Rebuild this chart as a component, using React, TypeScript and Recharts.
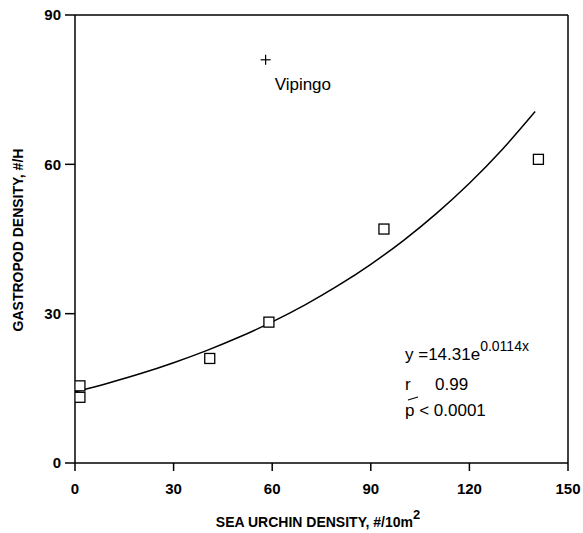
import { ComposedChart, Scatter, Line, XAxis, YAxis, ReferenceLine } from "recharts";

// observed sites: sea urchin density (#/10m2) vs gastropod density (#/H)
const urchinX = [1.5, 1.5, 41, 59, 94, 141];
const gastropodY = [15.5, 13.2, 21, 28.3, 47, 61];

// outlier site
const vipingoX = [58];
const vipingoY = [81];
const vipingoName = ["Vipingo"];

// fitted curve y = 14.31e^0.0114x, read at 10-unit steps
const fitX = [0, 10, 20, 30, 40, 50, 60, 70, 80, 90, 100, 110, 120, 130, 140];
const fitY = [14.31, 16.04, 17.97, 20.15, 22.58, 25.3, 28.36, 31.78, 35.62, 39.92, 44.74, 50.15, 56.2, 62.99, 70.6];

const xTicks = [0, 30, 60, 90, 120, 150];
const yTicks = [0, 30, 60, 90];

const points = urchinX.map((x, i) => ({ x, y: gastropodY[i] }));
const outlier = vipingoX.map((x, i) => ({ x, y: vipingoY[i], name: vipingoName[i] }));
const fit = fitX.map((x, i) => ({ x, y: fitY[i] }));

const font = "'Liberation Sans', Arial, sans-serif";

const Square = (props: any) => {
  const { cx, cy } = props;
  return <rect x={cx - 5} y={cy - 5} width={10} height={10} fill="#fff" stroke="#000" strokeWidth={1.3} />;
};

const Plus = (props: any) => {
  const { cx, cy, payload } = props;
  return (
    <g>
      <line x1={cx - 5} y1={cy} x2={cx + 5} y2={cy} stroke="#000" strokeWidth={1.2} />
      <line x1={cx} y1={cy - 5} x2={cx} y2={cy + 5} stroke="#000" strokeWidth={1.2} />
      <text x={cx + 9} y={cy + 30} fontSize={17} fontFamily={font} fill="#000">
        {payload.name}
      </text>
    </g>
  );
};

const tickStyle = { fontSize: 15, fontWeight: 700, fontFamily: font, fill: "#000" };

export default function App() {
  return (
    <div style={{ position: "absolute", left: 0, top: 0, width: 583, height: 533, background: "#fff" }}>
      <ComposedChart width={583} height={533} margin={{ top: 15, right: 15, bottom: 30, left: 15 }}>
        <XAxis
          type="number"
          dataKey="x"
          domain={[0, 150]}
          ticks={xTicks}
          height={40}
          tickSize={8}
          tickMargin={12}
          tick={tickStyle}
          axisLine={{ stroke: "#000", strokeWidth: 1.5 }}
          tickLine={{ stroke: "#000", strokeWidth: 1.5 }}
          allowDataOverflow
        />
        <YAxis
          type="number"
          dataKey="y"
          domain={[0, 90]}
          ticks={yTicks}
          width={60}
          tickSize={10}
          tickMargin={4}
          tick={tickStyle}
          axisLine={{ stroke: "#000", strokeWidth: 1.5 }}
          tickLine={{ stroke: "#000", strokeWidth: 1.5 }}
          allowDataOverflow
        />
        <ReferenceLine y={90} stroke="#000" strokeWidth={1.5} />
        <ReferenceLine x={150} stroke="#000" strokeWidth={1.5} />
        <Line
          data={fit}
          dataKey="y"
          type="monotone"
          stroke="#000"
          strokeWidth={1.5}
          dot={false}
          activeDot={false}
          isAnimationActive={false}
        />
        <Scatter data={points} dataKey="y" shape={<Square />} isAnimationActive={false} />
        <Scatter data={outlier} dataKey="y" shape={<Plus />} isAnimationActive={false} />
      </ComposedChart>
      <svg width={583} height={533} style={{ position: "absolute", left: 0, top: 0, pointerEvents: "none" }}>
        <text
          x={318}
          y={527}
          textAnchor="middle"
          fontSize={14}
          fontWeight={700}
          fontFamily={font}
          fill="#000"
        >
          SEA URCHIN DENSITY, #/10m
          <tspan fontSize={13} dy={-8}>2</tspan>
        </text>
        <text
          x={23}
          y={240}
          textAnchor="middle"
          fontSize={14}
          fontWeight={700}
          fontFamily={font}
          fill="#000"
          transform="rotate(-90 23 240)"
        >
          GASTROPOD DENSITY, #/H
        </text>
        <text x={405} y={360} fontSize={17} fontFamily={font} fill="#000">
          y =14.31e<tspan fontSize={14} dy={-9}>0.0114x</tspan>
        </text>
        <text x={405} y={390} fontSize={17} fontFamily={font} fill="#000">r</text>
        <text x={435} y={390} fontSize={17} fontFamily={font} fill="#000">0.99</text>
        <line x1={408} y1={400} x2={418} y2={397} stroke="#000" strokeWidth={1.2} />
        <text x={405} y={416} fontSize={17} fontFamily={font} fill="#000">p &lt; 0.0001</text>
      </svg>
    </div>
  );
}
